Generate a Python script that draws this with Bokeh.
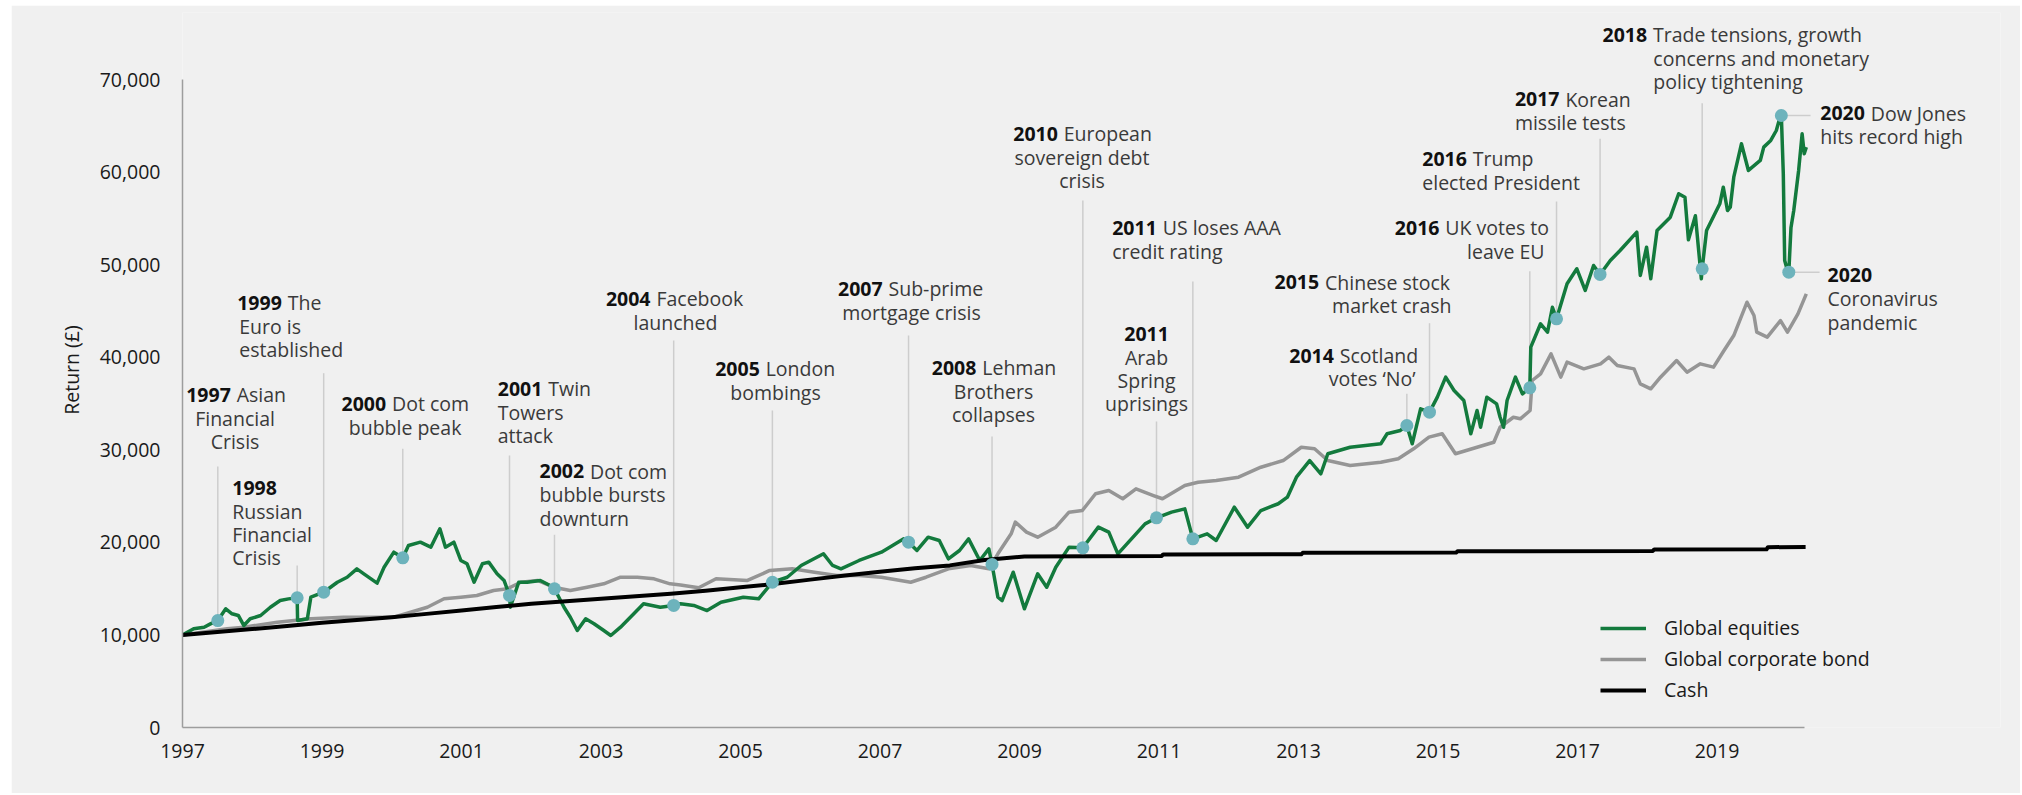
import numpy as np
from bokeh.plotting import figure
from bokeh.models import (ColumnDataSource, Range1d, FixedTicker, NumeralTickFormatter,
                          LinearAxis, Legend, LegendItem)
from bokeh.embed import file_html
from bokeh.resources import INLINE
from bokeh.core.properties import value

# ---------------- data ----------------
eq_years = [1997.00, 1997.16, 1997.31, 1997.40, 1997.506, 1997.62, 1997.71, 1997.80, 1997.88, 1997.97,
            1998.12, 1998.26, 1998.40, 1998.52, 1998.644, 1998.65, 1998.79, 1998.84, 1999.024, 1999.22,
            1999.36, 1999.50, 1999.60, 1999.79, 1999.89, 2000.03, 2000.158, 2000.24, 2000.41, 2000.56,
            2000.69, 2000.77, 2000.89, 2000.99, 2001.08, 2001.18, 2001.30, 2001.39, 2001.51, 2001.61,
            2001.688, 2001.70, 2001.82, 2001.94, 2002.13, 2002.27, 2002.333, 2002.47, 2002.56, 2002.66,
            2002.78, 2002.90, 2003.04, 2003.14, 2003.28, 2003.47, 2003.61, 2003.85, 2004.042, 2004.14,
            2004.33, 2004.52, 2004.72, 2005.04, 2005.26, 2005.457, 2005.67, 2005.87, 2006.19, 2006.32,
            2006.44, 2006.70, 2007.02, 2007.34, 2007.409, 2007.53, 2007.69, 2007.85, 2007.98, 2008.14,
            2008.27, 2008.43, 2008.56, 2008.606, 2008.69, 2008.75, 2008.91, 2009.07, 2009.26, 2009.39,
            2009.52, 2009.71, 2009.908, 2010.13, 2010.28, 2010.41, 2010.54, 2010.80, 2010.964, 2011.18,
            2011.37, 2011.485, 2011.69, 2011.82, 2012.08, 2012.27, 2012.46, 2012.71, 2012.84, 2012.97,
            2013.16, 2013.32, 2013.42, 2013.74, 2014.18, 2014.27, 2014.46, 2014.553, 2014.63, 2014.75,
            2014.878, 2014.99, 2015.11, 2015.23, 2015.37, 2015.47, 2015.56, 2015.61, 2015.70, 2015.84,
            2015.89, 2015.94, 2015.99, 2016.11, 2016.21, 2016.316, 2016.33, 2016.47, 2016.57, 2016.64,
            2016.699, 2016.85, 2016.99, 2017.11, 2017.23, 2017.323, 2017.47, 2017.61, 2017.85, 2017.90,
            2017.99, 2018.05, 2018.14, 2018.33, 2018.45, 2018.54, 2018.59, 2018.69, 2018.775, 2018.787,
            2018.85, 2019.04, 2019.09, 2019.15, 2019.19, 2019.24, 2019.35, 2019.45, 2019.62, 2019.67,
            2019.77, 2019.85, 2019.89, 2019.922, 2019.95, 2019.97, 2020.01, 2020.029, 2020.06, 2020.10,
            2020.17, 2020.22, 2020.25, 2020.28]
eq_values = [10000, 10670, 10840, 11200, 11560, 12830, 12290, 12110, 11020, 11750,
             12100, 13000, 13720, 13900, 14020, 11560, 11750, 14080, 14620, 15700,
             16240, 17150, 16610, 15600, 17320, 18950, 18340, 19670, 20030, 19490,
             21470, 19490, 20030, 18050, 17690, 15700, 17690, 17870, 16610, 15890,
             14270, 13000, 15700, 15700, 15890, 15350, 14990, 13000, 11920, 10480,
             11750, 11210, 10480, 9940, 10840, 12290, 13370, 13000, 13190, 13370,
             13190, 12640, 13540, 14080, 13910, 15700, 16240, 17510, 18770, 17510,
             17150, 18050, 18950, 20390, 20030, 19130, 20570, 20210, 18230, 19130,
             20390, 18050, 19310, 17620, 14080, 13720, 16780, 12830, 16610, 15160,
             17320, 19490, 19420, 21650, 21110, 18770, 19850, 22010, 22660, 23270,
             23630, 20390, 20930, 20210, 23810, 21650, 23450, 24180, 24890, 27050,
             28850, 27420, 29580, 30290, 30660, 31740, 32100, 32640, 30660, 34440,
             34080, 35700, 37860, 36420, 35340, 31740, 34260, 32450, 35700, 34980,
             33530, 32450, 35340, 37860, 36060, 36710, 41100, 43630, 42720, 45420,
             44170, 47950, 49570, 47230, 49930, 48960, 50470, 51550, 53530, 48850,
             51910, 48490, 53710, 55150, 57680, 57310, 52700, 55300, 48500, 49570,
             53710, 56600, 58390, 55870, 56230, 59470, 63080, 60200, 61280, 62720,
             63440, 64520, 65600, 66140, 59840, 50470, 49390, 49210, 54000, 55870,
             60200, 64160, 62000, 62720]

bond_years = [1997.00, 1997.64, 1997.88, 1998.36, 1998.84, 1999.31, 1999.79, 2000.03, 2000.27, 2000.51,
              2000.75, 2000.99, 2001.22, 2001.46, 2001.66, 2001.85, 2002.09, 2002.32, 2002.56, 2002.80,
              2003.04, 2003.28, 2003.52, 2003.76, 2003.99, 2004.14, 2004.40, 2004.65, 2005.10, 2005.42,
              2005.74, 2006.06, 2006.38, 2006.70, 2007.02, 2007.44, 2007.66, 2007.98, 2008.30, 2008.56,
              2008.69, 2008.88, 2008.94, 2009.10, 2009.26, 2009.52, 2009.71, 2009.90, 2010.09, 2010.28,
              2010.48, 2010.67, 2010.92, 2011.05, 2011.37, 2011.56, 2011.82, 2012.14, 2012.46, 2012.78,
              2013.04, 2013.23, 2013.42, 2013.74, 2014.18, 2014.43, 2014.65, 2014.87, 2015.06, 2015.25,
              2015.56, 2015.80, 2015.89, 2016.08, 2016.18, 2016.32, 2016.35, 2016.47, 2016.62, 2016.76,
              2016.85, 2017.09, 2017.33, 2017.45, 2017.57, 2017.81, 2017.90, 2018.05, 2018.19, 2018.42,
              2018.57, 2018.76, 2018.95, 2019.10, 2019.24, 2019.43, 2019.53, 2019.57, 2019.72, 2019.91,
              2020.01, 2020.16, 2020.28]
bond_values = [10000, 10670, 10840, 11380, 11750, 11920, 11920, 11920, 12460, 13000,
               13910, 14080, 14270, 14800, 14990, 15700, 15890, 15160, 14800, 15160,
               15530, 16240, 16240, 16070, 15530, 15400, 15100, 16070, 15890, 16970,
               17150, 16780, 16430, 16430, 16240, 15700, 16240, 17150, 17510, 17150,
               18770, 20930, 22190, 21110, 20570, 21650, 23270, 23450, 25260, 25610,
               24720, 25790, 25070, 24720, 26150, 26510, 26690, 27050, 28130, 28850,
               30290, 30120, 28850, 28310, 28670, 29040, 30120, 31380, 31740, 29580,
               30290, 30830, 32450, 33530, 33360, 34260, 37500, 38220, 40380, 37860,
               39480, 38760, 39300, 40020, 39120, 38760, 37140, 36600, 37860, 39660,
               38400, 39300, 38940, 40740, 42360, 45960, 44520, 42720, 42180, 43980,
               42720, 44700, 46870]

cash_years = [1997.0, 1997.5, 1998.0, 1998.5, 1999.0, 1999.5, 2000.0, 2000.5, 2001.0, 2001.5,
              2002.0, 2002.5, 2003.0, 2003.5, 2004.0, 2004.5, 2005.0, 2005.5, 2006.0, 2006.5,
              2007.0, 2007.5, 2008.0, 2008.5, 2009.07, 2011.04, 2011.06, 2013.04, 2013.06, 2015.26,
              2015.28, 2018.08, 2018.10, 2019.71, 2019.73, 2020.27]
cash_values = [10000, 10330, 10640, 10980, 11330, 11630, 11920, 12280, 12640, 13010,
               13380, 13650, 13920, 14190, 14450, 14780, 15150, 15530, 15980, 16420,
               16820, 17200, 17520, 18100, 18480, 18540, 18700, 18720, 18880, 18900,
               19050, 19080, 19240, 19260, 19490, 19500]

series_names = ["Global equities", "Global corporate bond", "Cash"]
y_title = "Return (\u00a3)"

x_ticks = [1997, 1999, 2001, 2003, 2005, 2007, 2009, 2011, 2013, 2015, 2017, 2019]
x_tick_labels = ["1997", "1999", "2001", "2003", "2005", "2007", "2009", "2011", "2013", "2015", "2017", "2019"]
y_ticks = [0, 10000, 20000, 30000, 40000, 50000, 60000, 70000]

# events
ev_years = [1997.506, 1998.644, 1999.024, 2000.158, 2001.688, 2002.333, 2004.042, 2005.457, 2007.409,
            2008.606, 2009.908, 2010.964, 2011.485, 2014.553, 2014.878, 2016.316, 2016.699, 2017.323,
            2018.787, 2019.922, 2020.029]
ev_bold = ["1997", "1998", "1999", "2000", "2001", "2002", "2004", "2005", "2007", "2008", "2010",
           "2011", "2011", "2014", "2015", "2016", "2016", "2017", "2018", "2020", "2020"]
ev_first = ["Asian", "", "The", "Dot com", "Twin", "Dot com", "Facebook", "London", "Sub-prime",
            "Lehman", "European", "", "US loses AAA", "Scotland", "Chinese stock", "UK votes to",
            "Trump", "Korean", "Trade tensions, growth", "Dow Jones", ""]
ev_more = [["Financial", "Crisis"], ["Russian", "Financial", "Crisis"], ["Euro is", "established"],
           ["bubble peak"], ["Towers", "attack"], ["bubble bursts", "downturn"], ["launched"],
           ["bombings"], ["mortgage crisis"], ["Brothers", "collapses"], ["sovereign debt", "crisis"],
           ["Arab", "Spring", "uprisings"], ["credit rating"], ["votes \u2018No\u2019"], ["market crash"],
           ["leave EU"], ["elected President"], ["missile tests"],
           ["concerns and monetary", "policy tightening"], ["hits record high"], ["Coronavirus", "pandemic"]]

# ---------------- annotation layout (data units) ----------------
ann_left = [1997.053, 1997.713, 1997.784, 1999.280, 2001.520, 2002.118, 2003.070, 2004.637, 2006.398,
            2007.742, 2008.910, 2010.821, 2010.329, 2012.867, 2012.656, 2014.381, 2014.774, 2016.102,
            2017.358, 2020.480, 2020.584]
ann_top = [35955, 25904, 45897, 34982, 36603, 27666, 46330, 38765, 47410, 38873, 64161, 42547, 54003,
           40202, 48124, 54003, 61459, 67868, 74860, 66387, 48848]
ann_align = ["center", "left", "left", "center", "left", "left", "center", "center", "center", "center",
             "center", "center", "left", "right", "right", "right", "left", "left", "left", "left", "left"]
ann_anchor = [1997.753, 1997.713, 1997.813, 2000.191, 2001.520, 2002.118, 2004.068, 2005.502, 2007.452,
              2008.627, 2009.896, 2010.821, 2010.329, 2014.677, 2015.194, 2016.527, 2014.774, 2016.102,
              2018.087, 2020.480, 2020.584]
lead_top = [28206, 17507, 38289, 30119, 29395, 20825, 41823, 34258, 42363, 31448, 56953, 33069, 48199,
            36063, 43693, 49312, 56845, 63621, 67468, None, None]
lead_end = [None] * 19 + [2020.341, 2020.470]
LINE_STEP = 2520
REST_OFFSET = 0.724

FONT_NAME = "Open Sans"
FONT = value(FONT_NAME)
FS = "19.5px"
BG = "#f0f0f0"
GREEN = "#137a3d"
GREY = "#959595"
DOT = "#6db3bc"

p = figure(width=2009, height=788, output_backend="svg", toolbar_location=None,
           x_range=Range1d(1997, 2023.064), y_range=Range1d(0, 77270),
           min_border_left=171, min_border_right=20, min_border_top=7, min_border_bottom=66)
p.margin = (5, 0, 0, 11)
p.background_fill_color = BG
p.border_fill_color = BG
p.outline_line_color = None
p.grid.visible = False

for ax in (p.xaxis[0], p.yaxis[0]):
    ax.axis_line_color = "#9d9d9d"
    ax.axis_line_width = 1.5
    ax.major_tick_line_color = None
    ax.minor_tick_line_color = None
    ax.major_tick_out = 0
    ax.major_tick_in = 0
    ax.major_label_text_font = FONT_NAME
    ax.major_label_text_font_size = FS
    ax.major_label_text_color = "#1a1a1a"

p.xaxis.ticker = FixedTicker(ticks=x_ticks)
p.xaxis.major_label_overrides = {t: l for t, l in zip(x_ticks, x_tick_labels)}
p.xaxis.bounds = (1997, 2020.254)
p.xaxis.major_label_standoff = 16
p.yaxis.ticker = FixedTicker(ticks=y_ticks)
p.yaxis.formatter = NumeralTickFormatter(format="0,0")
p.yaxis.bounds = (0, 70000)
p.yaxis.major_label_standoff = 22

# axis title carried by an extra, otherwise invisible axis so it can be centred where the reference has it
p.extra_y_ranges = {"title": Range1d(0, 77270)}
title_axis = LinearAxis(y_range_name="title", ticker=FixedTicker(ticks=[]), bounds=(30530, 50530),
                        axis_label=y_title, axis_line_color=None, major_tick_line_color=None,
                        minor_tick_line_color=None, major_tick_out=0, major_label_standoff=0,
                        axis_label_standoff=12, axis_label_text_font=FONT_NAME,
                        axis_label_text_font_size=FS, axis_label_text_font_style="normal",
                        axis_label_text_color="#1a1a1a")
p.add_layout(title_axis, "left")

# leader lines
dot_y = np.interp(ev_years, eq_years, eq_values)
lx0, lx1, ly0, ly1 = [], [], [], []
for i, ev in enumerate(ev_years):
    if lead_top[i] is not None:
        lx0.append(ev); lx1.append(ev); ly0.append(lead_top[i]); ly1.append(dot_y[i])
    else:
        lx0.append(ev); lx1.append(lead_end[i]); ly0.append(dot_y[i]); ly1.append(dot_y[i])
p.segment(x0=lx0, y0=ly0, x1=lx1, y1=ly1, line_color="#cdcdcd", line_width=1.5)

r_bond = p.line(bond_years, bond_values, line_color=GREY, line_width=3.5, line_join="round")
r_eq = p.line(eq_years, eq_values, line_color=GREEN, line_width=3.5, line_join="round")
r_cash = p.line(cash_years, cash_values, line_color="black", line_width=4, line_join="round")

p.scatter(ev_years, dot_y, size=13, fill_color=DOT, line_color=None)

# annotation texts
groups = {}
def add(style, align, x, y, t):
    g = groups.setdefault((style, align), {"x": [], "y": [], "t": []})
    g["x"].append(x); g["y"].append(y); g["t"].append(t)

for i in range(len(ev_years)):
    y0 = ann_top[i]
    if ev_first[i] == "" and ann_align[i] == "center":
        add("bold", "center", ann_anchor[i], y0, ev_bold[i])
    else:
        add("bold", "left", ann_left[i], y0, ev_bold[i])
        if ev_first[i]:
            add("normal", "left", ann_left[i] + REST_OFFSET, y0, ev_first[i])
    for k, line in enumerate(ev_more[i]):
        add("normal", ann_align[i], ann_anchor[i], y0 - (k + 1) * LINE_STEP, line)

for (style, align), g in groups.items():
    src = ColumnDataSource(dict(x=g["x"], y=g["y"], t=g["t"]))
    p.text(x="x", y="y", text="t", source=src, text_font=FONT, text_font_size=FS,
           text_font_style=style, text_align=align, text_baseline="middle",
           text_color="#111111" if style == "bold" else "#3a3a3a")

legend = Legend(items=[LegendItem(label=series_names[0], renderers=[r_eq]),
                       LegendItem(label=series_names[1], renderers=[r_bond]),
                       LegendItem(label=series_names[2], renderers=[r_cash])],
                location=(1418, 24))
legend.background_fill_alpha = 0
legend.border_line_alpha = 0
legend.padding = 0
legend.margin = 0
legend.spacing = 4
legend.glyph_width = 46
legend.glyph_height = 20
legend.label_height = 20
legend.label_standoff = 18
legend.label_text_font = FONT_NAME
legend.label_text_font_size = FS
legend.label_text_color = "#1a1a1a"
p.add_layout(legend)

open("out.html", "w").write(file_html(p, INLINE))
